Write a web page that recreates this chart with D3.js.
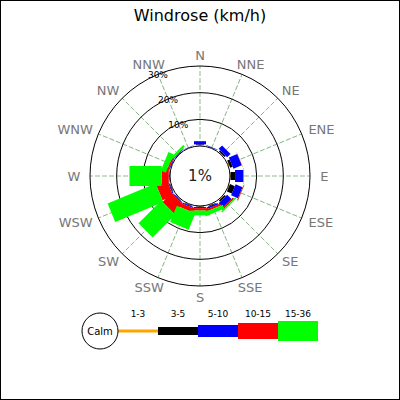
<!DOCTYPE html>
<html>
<head>
<meta charset="utf-8">
<script src="https://cdn.jsdelivr.net/npm/d3@7"></script>
<style>
  body { margin: 0; background: #fff; }
  svg { display: block; font-family: "DejaVu Sans", sans-serif; }
</style>
</head>
<body>
<script>
'use strict';

// wind directions, clockwise from north
const directions = ["N", "NNE", "NE", "ENE", "E", "ESE", "SE", "SSE",
                    "S", "SSW", "SW", "WSW", "W", "WNW", "NW", "NNW"];

// speed classes (km/h)
const speedClasses = ["1-3", "3-5", "5-10", "10-15", "15-36"];

// frequency (%) per direction for each speed class
const speed1to3   = [0.3, 0.1, 0.3, 0.4, 0.2, 0.3, 0.3, 0.3, 0.2, 0.2, 0.2, 0.2, 0.1, 0.1, 0.1, 0.1];
const speed3to5   = [0.3, 0.1, 0.6, 1.0, 1.7, 2.0, 0.6, 0.3, 0.2, 0.2, 0.2, 0.2, 0.1, 0.1, 0.1, 0.1];
const speed5to10  = [1.2, 0.2, 1.8, 3.4, 3.1, 2.8, 2.3, 0.6, 0.4, 0.4, 0.4, 0.4, 0.3, 0.3, 0.2, 0.1];
const speed10to15 = [0.0, 0.0, 0.0, 0.1, 0.1, 0.3, 0.6, 0.8, 0.9, 1.6, 4.8, 4.4, 2.6, 0.6, 0.2, 0.0];
const speed15to36 = [0.0, 0.0, 0.0, 0.0, 0.0, 0.1, 0.5, 1.5, 1.8, 6.6, 12.0, 19.5, 12.1, 2.0, 0.8, 0.0];

const ringTicks = [10, 20, 30];
const calmPct = "1%";

const width = 400, height = 400;
const cx = 200, cy = 176;

const colors = ["#ffa500", "#000000", "#0000ff", "#ff0000", "#00ff00"];
const barWidths = [3, 8, 12, 16, 20];

let svg = d3.select("body").append("svg")
    .attr("width", width)
    .attr("height", height);

svg.append("rect")
    .attr("x", 0.5).attr("y", 0.5)
    .attr("width", width - 1).attr("height", height - 1)
    .attr("fill", "#fff")
    .attr("stroke", "#000");

svg.append("text")
    .attr("x", width / 2).attr("y", 21)
    .attr("text-anchor", "middle")
    .attr("font-size", 16)
    .attr("fill", "#000")
    .text("Windrose (km/h)");

let r = d3.scaleLinear().domain([0, 30]).range([30, 110]);
let angle = d3.scaleBand().domain(directions).range([0, 360]);
let deg = d => angle(d);   // band start == direction centre
let rad = d => deg(d) * Math.PI / 180;
let g = svg.append("g").attr("transform", `translate(${cx},${cy})`);

// radial dashed grid
g.append("g").selectAll("line")
  .data(directions)
  .enter().append("line")
    .attr("transform", d => `rotate(${deg(d)})`)
    .attr("x1", 0).attr("y1", -r(0))
    .attr("x2", 0).attr("y2", -r(30))
    .attr("stroke", "#5a9a5a")
    .attr("stroke-opacity", 0.85)
    .attr("stroke-width", 0.8)
    .attr("stroke-dasharray", "5,2");

// rings
g.append("g").selectAll("circle")
  .data(ringTicks)
  .enter().append("circle")
    .attr("r", d => r(d))
    .attr("fill", "none")
    .attr("stroke", "#000")
    .attr("stroke-width", 1);

// stacked bars
let series = [speed1to3, speed3to5, speed5to10, speed10to15, speed15to36];
let rows = directions.map((d, i) => {
    let row = { dir: d };
    speedClasses.forEach((k, j) => { row[k] = series[j][i]; });
    return row;
});
let stack = d3.stack().keys(speedClasses)(rows);

g.append("g").selectAll("g")
  .data(stack)
  .enter().append("g")
    .attr("fill", (d, i) => colors[i])
  .selectAll("rect")
  .data((d, i) => d.map(p => ({ p: p, w: barWidths[i] })))
  .enter().append("rect")
    .attr("transform", d => `rotate(${deg(d.p.data.dir)})`)
    .attr("x", d => -d.w / 2)
    .attr("y", d => -r(d.p[1]))
    .attr("width", d => d.w)
    .attr("height", d => r(d.p[1]) - r(d.p[0]));

// calm circle
g.append("circle")
    .attr("r", r(0))
    .attr("fill", "#fff")
    .attr("stroke", "#000")
    .attr("stroke-width", 1);

g.append("text")
    .attr("text-anchor", "middle")
    .attr("dominant-baseline", "central")
    .attr("font-size", 15)
    .attr("fill", "#222")
    .text(calmPct);

// ring labels along NNW
let lab = -22.5 * Math.PI / 180;
g.append("g").selectAll("text")
  .data(ringTicks)
  .enter().append("text")
    .attr("x", d => Math.sin(lab) * r(d))
    .attr("y", d => -Math.cos(lab) * r(d) + 1)
    .attr("text-anchor", "middle")
    .attr("dominant-baseline", "central")
    .attr("font-size", 9)
    .attr("fill", "#000")
    .text(d => d + "%");

// direction labels, pushed out sideways by part of their own width
g.append("g").selectAll("text")
  .data(directions)
  .enter().append("text")
    .attr("text-anchor", "middle")
    .attr("dominant-baseline", "central")
    .attr("font-size", 13)
    .attr("fill", "#777")
    .text(d => d)
    .each(function(d) {
        let w = this.getComputedTextLength();
        let s = Math.sin(rad(d)), c = Math.cos(rad(d));
        d3.select(this)
          .attr("x", s * 121 + s * 0.8 * w / 2)
          .attr("y", -c * 121);
    });

// legend
let lx = d3.scaleBand().domain(speedClasses).range([118, 318]);
let ly = 331;
let legend = svg.append("g");

legend.selectAll("rect")
  .data(speedClasses)
  .enter().append("rect")
    .attr("x", d => lx(d))
    .attr("y", (d, i) => ly - barWidths[i] / 2)
    .attr("width", lx.bandwidth())
    .attr("height", (d, i) => barWidths[i])
    .attr("fill", (d, i) => colors[i]);

legend.selectAll("text")
  .data(speedClasses)
  .enter().append("text")
    .attr("x", d => lx(d) + lx.bandwidth() / 2)
    .attr("y", 314)
    .attr("text-anchor", "middle")
    .attr("dominant-baseline", "central")
    .attr("font-size", 9)
    .attr("fill", "#000")
    .text(d => d);

legend.append("circle")
    .attr("cx", 100).attr("cy", ly)
    .attr("r", 18)
    .attr("fill", "#fff")
    .attr("stroke", "#000");

legend.append("text")
    .attr("x", 100).attr("y", ly)
    .attr("text-anchor", "middle")
    .attr("dominant-baseline", "central")
    .attr("font-size", 10)
    .attr("fill", "#000")
    .text("Calm");
</script>
</body>
</html>
